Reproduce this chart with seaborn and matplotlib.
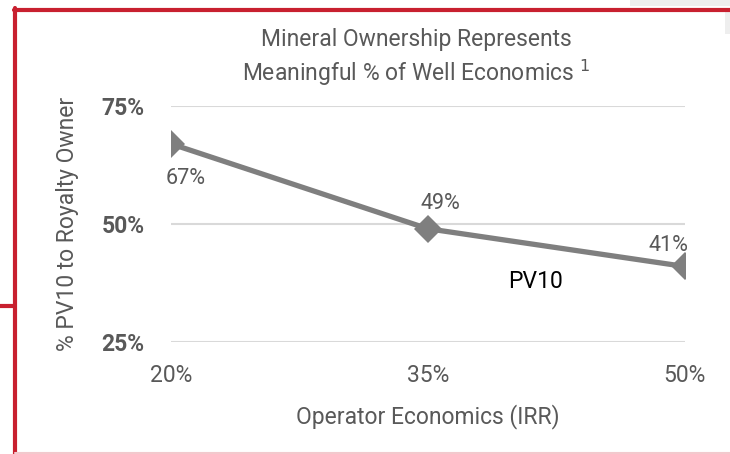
import matplotlib
matplotlib.use("Agg")
import matplotlib.pyplot as plt
from matplotlib.lines import Line2D
from matplotlib.patches import Rectangle
import pandas as pd
import seaborn as sns

# chart data
irr_labels = ["20%", "35%", "50%"]
pv10_share = [67, 49, 41]
y_ticks = [25, 50, 75]
series_name = "PV10"

sns.set_theme(style="white")
plt.rcParams["font.family"] = ["Liberation Sans Narrow", "Roboto", "DejaVu Sans"]

TEXT = "#595959"
LINE = "#7f7f7f"
RED = "#c8202f"

df = pd.DataFrame({"irr": irr_labels, "pv10": pv10_share})

fig = plt.figure(figsize=(7.3, 4.54), dpi=100)
ax = fig.add_axes([0.234, 0.2467, 0.704, 0.5198])

sns.lineplot(data=df, x="irr", y="pv10", ax=ax, color=LINE, linewidth=3.8,
             marker="D", markersize=14, markeredgewidth=0, sort=False)

ax.set_xlim(0, len(irr_labels) - 1)
ax.set_ylim(25, 75)
ax.set_yticks(y_ticks)
ax.set_yticklabels([f"{v}%" for v in y_ticks], fontsize=16.5, fontweight="bold", color=TEXT)
ax.set_xticks(range(len(irr_labels)))
ax.set_xticklabels(irr_labels, fontsize=16.5, color=TEXT)
ax.tick_params(axis="y", length=0, pad=19)
ax.tick_params(axis="x", length=0, pad=16)
ax.yaxis.grid(True, color="#d9d9d9", linewidth=1.5)
ax.set_axisbelow(True)
for s in ax.spines.values():
    s.set_visible(False)

ax.set_xlabel("Operator Economics (IRR)", fontsize=16.5, color=TEXT, labelpad=12)
ax.set_ylabel("% PV10 to Royalty Owner", fontsize=16.5, color=TEXT, labelpad=16)

# data labels
offsets = [(11, -25), (9, 18), (-12, 15)]
for i, (v, off) in enumerate(zip(pv10_share, offsets)):
    ax.annotate(f"{v}%", (i, v), xytext=off, textcoords="offset points",
                ha="center", va="center", fontsize=15.5, color=TEXT)
ax.annotate(series_name, (1.42, 37.8), ha="center", va="center",
            fontsize=16.5, color="black")

fig.text(0.570, 0.873, "Mineral Ownership Represents\nMeaningful % of Well Economics $^{1}$",
         ha="center", va="center", fontsize=16.5, color=TEXT, linespacing=1.3)

# faint shadow at the top right
fig.add_artist(Rectangle((630 / 730, 1 - 6 / 454), 100 / 730, 6 / 454,
                         transform=fig.transFigure, color="#eeeeee", lw=0))
fig.add_artist(Rectangle((725 / 730, 1 - 34 / 454), 5 / 730, 22 / 454,
                         transform=fig.transFigure, color="#eeeeee", lw=0))

# red frame
fig.add_artist(Line2D([14 / 730, 1], [1 - 9.5 / 454] * 2, color=RED, linewidth=3))
fig.add_artist(Line2D([15 / 730] * 2, [0, 1 - 8 / 454], color=RED, linewidth=3))
fig.add_artist(Line2D([0, 15 / 730], [1 - 306 / 454] * 2, color=RED, linewidth=3))
fig.add_artist(Line2D([15 / 730, 1], [1 / 454] * 2, color="#f2c9cd", linewidth=1.5))

fig.savefig("out.png", dpi=100)
